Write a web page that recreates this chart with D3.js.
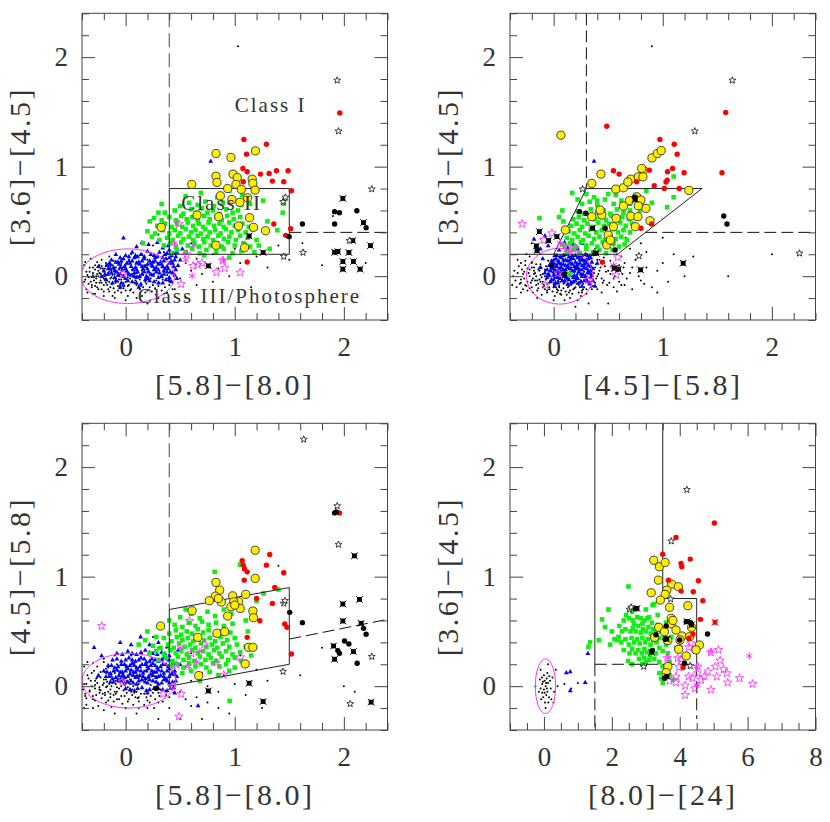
<!DOCTYPE html>
<html><head><meta charset="utf-8">
<script src="https://cdn.jsdelivr.net/npm/d3@7"></script>
<style>body{margin:0;background:#fff}svg{display:block}</style>
</head><body>
<svg id="c" width="830" height="822"></svg>
<script>
// ---------------- DATA ----------------
const irTicks = [0, 1, 2];
const p4XTicks = [0, 2, 4, 6, 8];

// Panel 1: [5.8]-[8.0] vs [3.6]-[4.5]
const p1Field = [[-0.25,-0.12],[-0.15,-0.14],[-0.05,-0.11],[0.04,-0.13],[0.12,-0.1],[-0.31,-0.1],[0.2,-0.13],[-0.1,-0.15],
[-0.34,-0.07],[-0.28,-0.09],[-0.22,-0.06],[-0.17,-0.08],[-0.12,-0.07],[-0.07,-0.09],[-0.02,-0.06],[0.03,-0.08],[0.08,-0.06],[0.14,-0.09],[0.19,-0.07],[0.25,-0.08],[0.31,-0.06],
[-0.37,-0.03],[-0.32,-0.05],[-0.27,-0.02],[-0.23,-0.04],[-0.19,-0.03],[-0.15,-0.05],[-0.11,-0.02],[-0.08,-0.04],[-0.04,-0.03],[0,-0.05],[0.04,-0.02],[0.09,-0.04],[0.13,-0.03],[0.18,-0.05],[0.23,-0.02],[0.28,-0.04],[0.34,-0.03],[0.4,-0.05],
[-0.35,0.01],[-0.3,-0.01],[-0.26,0.02],[-0.21,0],[-0.17,0.01],[-0.13,-0.01],[-0.1,0.02],[-0.06,0],[-0.02,0.01],[0.02,-0.01],[0.06,0.02],[0.11,0],[0.16,0.01],[0.21,-0.01],[0.26,0.02],[0.32,0],[0.38,0.01],
[-0.33,0.04],[-0.28,0.06],[-0.24,0.03],[-0.2,0.05],[-0.15,0.04],[-0.11,0.06],[-0.07,0.03],[-0.03,0.05],[0.01,0.04],[0.06,0.06],[0.1,0.03],[0.15,0.05],[0.2,0.04],[0.27,0.06],[0.35,0.05],
[-0.3,0.08],[-0.24,0.1],[-0.19,0.07],[-0.14,0.09],[-0.09,0.08],[-0.04,0.1],[0,0.07],[0.05,0.09],[0.1,0.08],[0.17,0.1],[0.24,0.09],[0.33,0.08],
[-0.26,0.13],[-0.18,0.12],[-0.11,0.14],[-0.04,0.12],[0.03,0.15],[0.1,0.13],[0.2,0.15],[0.29,0.12],
[-0.25,0],[-0.2,-0.02],[-0.16,0.03],[-0.12,0.01],[-0.09,-0.02],[-0.05,0.03],[-0.01,-0.02],[0.03,0.02],[-0.23,0.07],[-0.18,-0.06],[-0.13,0.05],[-0.07,-0.05],[-0.03,0.08],[0.02,-0.04],[0.07,0],[-0.27,-0.06],[-0.22,0.09],[-0.14,-0.1],[-0.06,0.06],[0,0.1],
[0.45,0.08],[0.5,-0.02],[0.55,0.12],[0.6,0.05],[0.65,0.16],[0.7,0.02],[0.75,0.1],[0.8,0.2],[0.85,0.07],[0.9,0.15],[0.95,0],[1.0,0.25],[1.05,0.12],[1.1,0.3],[1.2,0.18],[1.3,0.08],[1.4,0.28],[1.5,0.15],[0.35,0.22],[0.4,0.3],[0.3,0.38],[0.25,0.28],[0.5,0.4],[0.6,0.3],[0.7,0.45],[0.45,-0.12],[0.55,-0.2],[0.38,-0.15],[0.3,-0.2],[0.2,-0.25],[0.1,-0.2],[0,-0.22],[-0.1,-0.2],[-0.2,-0.18],[-0.3,-0.16],[-0.38,0.1],[-0.36,-0.12],[1.03,2.1],[1.62,0.3],[1.8,0.1],[2.2,0.12],[1.9,0.55],[0.65,-0.08],[0.8,-0.05],[1.15,-0.1],[0.9,0.35],[0.15,0.2],[0.05,0.2],[-0.15,0.18],[0.42,0.18]];
const p1FieldCore = [[-0.38,-0.05],[-0.36,0.04],[-0.34,-0.01],[-0.33,0.08],[-0.31,-0.08],[-0.3,0.03],[-0.29,-0.04],[-0.28,0.1],[-0.27,0],[-0.26,-0.1],[-0.25,0.05],[-0.24,-0.06],[-0.23,0.02],[-0.22,-0.12],[-0.21,0.07],[-0.2,-0.08],[-0.19,0],[-0.18,0.1],[-0.17,-0.04],[-0.16,-0.12],[-0.15,0.07],[-0.14,-0.02],[-0.13,-0.07],[-0.12,0.1],[-0.11,-0.11],[-0.1,0.05],[-0.09,-0.06],[-0.08,0.12],[-0.07,-0.13],[-0.06,-0.03],[-0.05,-0.08],[-0.04,-0.15],[-0.02,-0.11],[0,-0.13],[0.02,-0.09],[0.05,-0.12],[0.07,-0.15],[0.1,-0.08],[0.13,-0.12],[0.16,-0.1],[0.18,-0.15],[0.22,-0.1],[0.24,-0.14],[0.27,-0.11],[0.3,-0.09],[0.33,-0.13],[0.36,-0.1],[0.4,-0.08],[0.43,-0.12],[-0.35,-0.15],[-0.28,-0.16],[-0.2,-0.14],[-0.12,-0.18],[0.02,-0.18],[0.15,-0.18],[0.28,-0.17],[-0.37,0.13],[-0.32,0.16],[-0.22,0.15]];
const p1Blue = [[-0.12,-0.06],[-0.02,-0.08],[0.06,-0.05],[0.14,-0.07],[0.22,-0.04],[0.3,-0.06],[0.37,-0.03],[-0.18,-0.03],[0.42,-0.05],
[-0.22,0],[-0.16,0.02],[-0.1,-0.01],[-0.05,0.02],[0,-0.02],[0.05,0.01],[0.1,-0.01],[0.15,0.02],[0.2,-0.02],[0.25,0.01],[0.3,-0.01],[0.35,0.02],[0.4,-0.01],[0.45,0.01],
[-0.2,0.05],[-0.14,0.07],[-0.08,0.04],[-0.03,0.06],[0.02,0.03],[0.07,0.06],[0.11,0.04],[0.16,0.07],[0.21,0.04],[0.26,0.06],[0.31,0.03],[0.36,0.07],[0.41,0.04],[0.46,0.06],
[-0.17,0.1],[-0.11,0.08],[-0.06,0.11],[-0.01,0.09],[0.04,0.12],[0.09,0.08],[0.13,0.11],[0.18,0.09],[0.23,0.12],[0.28,0.08],[0.33,0.11],[0.38,0.09],[0.43,0.12],[0.48,0.1],
[-0.13,0.15],[-0.07,0.13],[-0.02,0.16],[0.03,0.14],[0.08,0.17],[0.12,0.13],[0.17,0.16],[0.22,0.14],[0.27,0.17],[0.32,0.13],[0.37,0.16],[0.42,0.14],[0.46,0.18],
[-0.09,0.2],[0,0.19],[0.06,0.22],[0.14,0.2],[0.2,0.23],[0.26,0.19],[0.31,0.22],[0.36,0.2],[0.4,0.24],[0.44,0.21],
[-0.15,0.12],[0.01,0.05],[0.19,0],[0.27,0.14],[0.35,0.05],[-0.04,0.14],[0.11,0.18],[0.24,0.1],[0.4,0.17],[0.08,0],
[-0.02,0.35],[0.1,0.27],[0.21,0.29],[0.29,0.31],[0.34,0.26],[-0.25,0.09],[-0.3,0],[0.12,-0.1],[-0.05,-0.1],[0.5,0.15],[0.47,-0.02],[0.39,0.28],[0.78,1.05],[0.52,0.25],[0.15,0.31]];
const p1BlueCore = [[-0.09,-0.04],[-0.04,-0.06],[0.02,-0.04],[0.1,-0.06],[0.18,-0.03],[0.26,-0.05],[0.34,-0.06],[0.4,-0.03],
[-0.19,0.02],[-0.13,0.03],[-0.07,0.01],[-0.02,0],[0.03,0.02],[0.08,0.03],[0.13,0],[0.17,0.04],[0.23,0.02],[0.28,0.04],[0.33,0],[0.38,0.04],[0.43,0.03],
[-0.16,0.07],[-0.1,0.05],[-0.05,0.08],[0,0.07],[0.05,0.09],[0.1,0.06],[0.15,0.09],[0.2,0.07],[0.25,0.09],[0.3,0.06],[0.34,0.09],[0.39,0.07],[0.44,0.09],
[-0.14,0.11],[-0.09,0.13],[0.01,0.12],[0.06,0.14],[0.1,0.12],[0.15,0.14],[0.2,0.11],[0.25,0.13],[0.3,0.11],[0.35,0.14],[0.4,0.12],[0.45,0.15],
[-0.05,0.17],[0.03,0.18],[0.09,0.19],[0.17,0.18],[0.23,0.2],[0.29,0.18],[0.34,0.17],[0.38,0.21],[0.42,0.19],[0.47,0.22]];
const p1Green = [[0.42,0.21],[0.47,0.24],[0.55,0.22],[0.61,0.25],[0.68,0.21],[0.74,0.24],[0.83,0.22],[0.9,0.25],[0.98,0.21],[1.06,0.23],[1.18,0.22],
[0.35,0.28],[0.41,0.3],[0.46,0.27],[0.51,0.31],[0.57,0.28],[0.63,0.3],[0.67,0.27],[0.72,0.31],[0.78,0.28],[0.84,0.3],[0.88,0.27],[0.94,0.31],[1.0,0.28],[1.08,0.3],[1.14,0.27],
[0.24,0.36],[0.31,0.33],[0.38,0.35],[0.43,0.33],[0.48,0.37],[0.53,0.34],[0.58,0.36],[0.62,0.33],[0.66,0.37],[0.71,0.34],[0.75,0.36],[0.8,0.33],[0.85,0.37],[0.9,0.34],[0.95,0.36],[1.01,0.33],[1.05,0.37],[1.12,0.35],[1.2,0.33],
[0.2,0.41],[0.27,0.39],[0.34,0.42],[0.4,0.39],[0.45,0.42],[0.5,0.39],[0.55,0.43],[0.6,0.4],[0.64,0.42],[0.69,0.39],[0.73,0.43],[0.77,0.4],[0.82,0.42],[0.87,0.39],[0.92,0.43],[0.97,0.4],[1.03,0.42],[1.1,0.4],[1.16,0.43],
[0.29,0.46],[0.36,0.48],[0.42,0.45],[0.47,0.48],[0.52,0.45],[0.57,0.49],[0.62,0.46],[0.67,0.48],[0.71,0.45],[0.76,0.49],[0.81,0.46],[0.86,0.48],[0.9,0.45],[0.95,0.49],[1.0,0.46],[1.07,0.48],[1.13,0.45],
[0.26,0.53],[0.33,0.51],[0.4,0.54],[0.46,0.51],[0.51,0.55],[0.56,0.52],[0.61,0.54],[0.66,0.51],[0.72,0.55],[0.77,0.52],[0.83,0.54],[0.88,0.51],[0.93,0.55],[0.99,0.52],[1.05,0.54],
[0.36,0.58],[0.45,0.6],[0.53,0.57],[0.6,0.61],[0.65,0.58],[0.7,0.62],[0.75,0.58],[0.8,0.6],[0.86,0.57],[0.92,0.61],[0.98,0.58],[1.03,0.6],
[0.33,0.66],[0.5,0.64],[0.58,0.67],[0.66,0.65],[0.73,0.68],[0.81,0.64],[0.89,0.67],[0.97,0.7],[1.06,0.65],
[0.55,0.73],[0.69,0.76],[0.84,0.72],[0.95,0.78],[1.07,0.74],[1.14,0.66],
[1.26,0.69],[1.39,0.42],[1.44,0.58],[1.45,0.66],[1.3,0.5],[1.22,0.28],[0.16,0.3],[0.22,0.5],[0.3,0.58],[1.32,0.25],[0.72,0.19],[0.95,0.17]];
const p1Yellow = [[0.828,1.12],[0.965,1.084],[1.19,1.144],[0.606,0.838],[0.828,0.913],[0.837,0.856],[0.984,0.932],[1.023,0.9],[1.011,0.838],[1.16,0.886],[1.166,0.847],[0.935,0.8],[1.06,0.792],[1.187,0.786],[0.974,0.7],[1.047,0.674],[0.868,0.734],[1.118,0.716],[0.655,0.558],[0.853,0.543],[1.035,0.458],[1.136,0.534],[1.172,0.446],[1.282,0.415],[0.828,0.282],[1.09,0.26],[0.326,0.446]];
const p1Red = [[1.084,1.248],[1.29,1.205],[1.108,1.114],[1.963,1.49],[1.114,0.953],[1.236,0.932],[1.315,0.938],[1.382,0.962],[1.489,0.962],[1.345,0.868],[1.449,0.862],[1.519,0.78],[1.078,0.862],[1.075,0.983],[1.358,0.477],[1.513,0.434],[1.467,0.373],[1.114,0.13]];
const p1Black = [[1.915,0.589],[1.96,0.58],[1.915,0.477],[2.119,0.598],[2.204,0.443],[1.62,0.477],[1.498,0.361]];
const p1BlackX = [[1.991,0.71],[2.18,0.489],[2.082,0.325],[2.244,0.279],[1.915,0.219],[1.945,0.225],[2.046,0.216],[1.991,0.134],[1.991,0.064],[2.088,0.134],[2.149,0.064],[1.132,0.367],[1.26,0.216],[0.758,0.094]];
const p1Star = [[1.939,1.788],[1.951,1.324],[2.256,0.795],[1.626,0.216],[1.449,0.179],[1.443,0.68],[1.464,0.72],[2.052,0.325]];
const p1MagStar = [[0.488,0.476],[0.661,0.103],[0.618,0.094],[0.831,0.036],[0.908,0.073],[1.05,0.033],[0.509,-0.073],[-0.024,0.018],[0.889,0.143],[0.7,0.12],[0.56,0.2]];
const p1MagAst = [[0.609,0.003],[0.895,0.148],[0.45,0.3],[0.62,0.28],[0.55,0.15]];

// Panel 2: [4.5]-[5.8] vs [3.6]-[4.5]
const p2Field = [[-0.15,-0.13],[-0.06,-0.15],[0.03,-0.12],[0.11,-0.14],[0.19,-0.11],[-0.22,-0.11],[0.26,-0.13],[0.07,-0.17],
[-0.26,-0.08],[-0.2,-0.1],[-0.14,-0.07],[-0.09,-0.09],[-0.04,-0.06],[0,-0.08],[0.05,-0.1],[0.09,-0.07],[0.14,-0.09],[0.18,-0.06],[0.23,-0.08],[0.28,-0.1],[0.33,-0.07],
[-0.3,-0.03],[-0.24,-0.05],[-0.19,-0.02],[-0.15,-0.04],[-0.11,-0.01],[-0.07,-0.03],[-0.03,-0.05],[0.01,-0.02],[0.04,-0.04],[0.08,-0.01],[0.12,-0.03],[0.16,-0.05],[0.2,-0.02],[0.25,-0.04],[0.3,-0.01],[0.36,-0.03],
[-0.28,0.02],[-0.22,0],[-0.17,0.03],[-0.12,0.01],[-0.08,0.04],[-0.04,0],[0,0.02],[0.04,0.04],[0.08,0.01],[0.12,0.03],[0.17,0],[0.22,0.02],[0.28,0.04],[0.34,0.01],
[-0.24,0.07],[-0.18,0.05],[-0.13,0.08],[-0.08,0.06],[-0.03,0.09],[0.01,0.06],[0.06,0.08],[0.11,0.05],[0.16,0.08],[0.22,0.06],[0.3,0.08],
[-0.2,0.12],[-0.12,0.11],[-0.05,0.14],[0.02,0.11],[0.09,0.13],[0.17,0.12],[0.26,0.14],
[-0.1,-0.05],[-0.05,0.02],[0,-0.06],[0.03,0],[0.06,-0.05],[0.1,0],[-0.16,0],[-0.13,-0.03],[-0.02,0.06],[0.07,0.05],[0.14,-0.02],[0.02,-0.1],[-0.08,-0.12],[0.12,-0.08],[-0.18,0.08],[0.19,0.04],
[-0.36,0.05],[-0.38,-0.08],[-0.33,0.15],[-0.3,-0.15],[-0.25,0.2],[-0.15,-0.2],[0,-0.22],[0.15,-0.2],[0.25,-0.18],[0.35,-0.12],[0.4,0],[0.45,-0.06],[0.5,0.05],[0.55,-0.02],[0.6,0.1],[0.65,-0.08],[0.7,0.03],[0.75,0.15],[0.8,-0.04],[0.85,0.08],[0.9,-0.1],[0.95,0.05],[1.0,0.12],[1.05,-0.05],[1.1,0.2],[0.42,0.15],[0.48,0.2],[0.38,0.25],[0.3,0.2],[0.55,0.28],[0.62,0.18],[0.7,0.25],[0.44,-0.15],[0.58,-0.14],[0.72,-0.12],[0.32,-0.25],[0.2,-0.28],[0.5,-0.25],[1.2,0],[0.95,-0.15],[0.9,2.1],[1.6,0],[2.0,0.2],[1.0,0.35],[0.8,0.3],[-0.2,0.3],[0.1,0.28],[1.28,0.18],[0.66,0.35],[0.85,0.22]];
const p2FieldCore = [[-0.37,0],[-0.35,-0.04],[-0.33,0.03],[-0.31,-0.07],[-0.29,0.06],[-0.27,-0.02],[-0.26,0.1],[-0.24,-0.13],[-0.23,0.03],[-0.21,-0.06],[-0.2,0.08],[-0.19,-0.15],[-0.17,-0.04],[-0.16,0.11],[-0.14,-0.11],[-0.13,0.05],[-0.11,-0.17],[-0.1,0.02],[-0.09,-0.08],[-0.07,0.09],[-0.06,-0.13],[-0.04,-0.1],[-0.01,-0.14],[0.01,-0.18],[0.04,-0.13],[0.06,-0.16],[0.09,-0.11],[0.12,-0.17],[0.15,-0.13],[0.17,-0.16],[0.2,-0.1],[0.23,-0.15],[0.27,-0.12],[0.3,-0.16],[0.34,-0.1],[0.38,-0.06],[0.4,-0.12],[0.42,0.05],[0.44,-0.02],[0.47,0.09],[0.49,-0.08],[0.52,0.02],[0.55,-0.1],[0.57,0.06],[0.6,-0.05],[0.63,0.02],[0.67,-0.02],[0.72,0.08],[0.78,0],[0.83,-0.07],[0.38,0.08],[0.4,0.15],[0.45,0.12],[0.52,0.14],[0.58,0.2],[0.65,0.12],[-0.3,0.12],[-0.22,0.18],[0.1,-0.22],[0.22,-0.22],
[-0.3,-0.06],[-0.27,0.04],[-0.25,-0.09],[-0.22,0.06],[-0.2,-0.04],[-0.18,0.02],[-0.16,-0.08],[-0.14,0.06],[-0.12,-0.05],[-0.1,-0.1],[-0.08,0],[-0.06,-0.07],[-0.04,-0.12],[-0.02,-0.04],[0,-0.1],[0.02,-0.07],[0.05,-0.09],[0.07,-0.13],[0.1,-0.06],[0.13,-0.1],[0.16,-0.08],[0.18,-0.12],[0.21,-0.07],[0.24,-0.1],[0.27,-0.07],[0.3,-0.12],[0.33,-0.05],[0.36,-0.09],[0.39,-0.02],[0.41,0.02],[0.43,0.08],[0.46,-0.04],[0.48,0.04],[0.51,-0.06],[0.53,0.09],[0.56,0],[0.59,0.05],[0.62,-0.08],[0.64,0.08],[0.37,0.03],[0.39,0.11],[-0.26,0.14],[-0.32,0.09],[-0.34,-0.1],[-0.28,-0.12],[-0.2,0.13],[0.03,-0.15],[0.14,-0.15],[0.26,-0.15],[0.46,0.17]];
const p2Blue = [[0.02,-0.06],[0.08,-0.04],[0.13,-0.07],[0.18,-0.05],[0.23,-0.06],[0.28,-0.04],[0.33,-0.07],[-0.03,-0.05],
[-0.06,-0.01],[-0.02,-0.03],[0.02,0],[0.06,-0.02],[0.1,0],[0.14,-0.03],[0.18,-0.01],[0.22,-0.02],[0.26,0],[0.3,-0.03],[0.34,-0.01],
[-0.08,0.03],[-0.04,0.01],[0,0.04],[0.04,0.02],[0.07,0.04],[0.11,0.01],[0.15,0.03],[0.19,0.01],[0.23,0.04],[0.27,0.02],[0.31,0.03],[0.35,0.01],
[-0.06,0.06],[-0.02,0.08],[0.02,0.05],[0.05,0.07],[0.09,0.06],[0.13,0.08],[0.17,0.05],[0.2,0.07],[0.24,0.06],[0.28,0.08],[0.32,0.05],[0.36,0.07],
[-0.04,0.1],[0,0.12],[0.03,0.09],[0.07,0.11],[0.11,0.1],[0.15,0.12],[0.19,0.09],[0.22,0.11],[0.26,0.1],[0.3,0.12],[0.34,0.09],
[-0.02,0.14],[0.02,0.16],[0.05,0.13],[0.09,0.15],[0.13,0.14],[0.16,0.17],[0.2,0.13],[0.24,0.15],[0.28,0.14],[0.32,0.16],[0.35,0.13],
[0.01,0.19],[0.06,0.18],[0.11,0.2],[0.17,0.19],[0.23,0.18],[0.29,0.2],[0.33,0.18],
[-0.18,0.34],[-0.08,0.37],[-0.12,0.25],[-0.05,0.28],[0.05,0.24],[0.13,0.26],[0.18,0.29],[0.26,0.3],[0.22,0.25],[0.37,1.05],[0.38,-0.09],[0.26,-0.09],[-0.1,0.16],[0.1,0.31],[0.36,0.2],[0.4,0.12],[0.01,-0.09],[-0.12,0.08]];
const p2BlueCore = [[0,-0.03],[0.04,-0.06],[0.1,-0.04],[0.16,-0.06],[0.2,-0.04],[0.25,-0.05],[0.31,-0.05],[0.36,-0.04],
[-0.05,0.02],[0,0.01],[0.04,-0.01],[0.08,0.02],[0.12,-0.01],[0.16,0.01],[0.21,0],[0.25,0.02],[0.29,0],[0.33,0.03],
[-0.03,0.05],[0,0.07],[0.04,0.05],[0.07,0.08],[0.11,0.06],[0.15,0.07],[0.19,0.05],[0.22,0.08],[0.26,0.06],[0.3,0.07],[0.34,0.05],
[-0.02,0.11],[0.02,0.1],[0.05,0.12],[0.09,0.11],[0.13,0.1],[0.17,0.11],[0.21,0.1],[0.24,0.12],[0.28,0.11],[0.32,0.1],
[0,0.15],[0.04,0.14],[0.07,0.17],[0.11,0.15],[0.15,0.15],[0.18,0.16],[0.22,0.17],[0.26,0.16],[0.3,0.15],[0.34,0.17],
[0.03,0.19],[0.09,0.19],[0.14,0.18],[0.2,0.19],[0.26,0.19],[0.31,0.19]];
const p2Green = [[0.12,0.22],[0.18,0.24],[0.24,0.21],[0.3,0.25],[0.36,0.22],[0.42,0.24],[0.48,0.21],[0.54,0.24],
[0.1,0.28],[0.15,0.3],[0.2,0.27],[0.25,0.31],[0.3,0.28],[0.35,0.3],[0.4,0.27],[0.45,0.31],[0.5,0.28],[0.55,0.3],[0.6,0.27],[0.65,0.29],
[0.12,0.35],[0.17,0.33],[0.22,0.36],[0.27,0.33],[0.32,0.37],[0.37,0.34],[0.42,0.36],[0.47,0.33],[0.52,0.37],[0.57,0.34],[0.62,0.36],[0.67,0.33],
[0.14,0.41],[0.19,0.39],[0.24,0.42],[0.29,0.39],[0.34,0.43],[0.39,0.4],[0.44,0.42],[0.49,0.39],[0.54,0.43],[0.59,0.4],[0.64,0.42],[0.7,0.4],
[0.16,0.46],[0.21,0.48],[0.26,0.45],[0.31,0.48],[0.36,0.45],[0.41,0.49],[0.46,0.46],[0.51,0.48],[0.56,0.45],[0.61,0.49],[0.66,0.46],[0.72,0.48],
[0.18,0.52],[0.23,0.54],[0.28,0.51],[0.33,0.55],[0.38,0.52],[0.43,0.54],[0.48,0.51],[0.53,0.55],[0.58,0.52],[0.63,0.54],[0.69,0.52],[0.76,0.53],
[0.22,0.59],[0.28,0.57],[0.34,0.61],[0.4,0.58],[0.46,0.6],[0.52,0.57],[0.58,0.61],[0.64,0.58],[0.7,0.6],[0.79,0.6],
[0.26,0.66],[0.33,0.68],[0.4,0.65],[0.47,0.7],[0.55,0.66],[0.62,0.69],[0.7,0.66],[0.8,0.67],[0.37,0.72],[0.57,0.74],
[0.17,0.76],[-0.13,0.53],[0.05,0.54],[0.09,0.5],[0.4,0.69],[0.5,0.75],[0.6,0.8],[1.1,0.91],[1.1,0.72],[1.04,0.63],[0.9,0.67],[0.85,0.78],[0.3,0.75],[0.75,0.74],[0.22,0.7],[0.08,0.6],[0.15,0.02],[0.08,0.29]];
const p2Yellow = [[0.067,1.287],[0.35,0.847],[0.433,0.932],[0.57,0.795],[0.64,0.807],[0.707,0.886],[0.68,0.86],[0.776,0.907],[0.822,0.968],[0.818,0.907],[0.807,0.984],[0.901,1.08],[0.95,1.12],[0.986,1.147],[1.239,0.783],[0.694,0.689],[0.761,0.725],[0.8,0.695],[0.846,0.619],[0.776,0.643],[0.707,0.549],[0.772,0.543],[0.883,0.506],[0.749,0.452],[0.548,0.452],[0.5,0.376],[0.487,0.285],[0.35,0.543],[0.442,0.558],[0.107,0.422],[0.64,0.64],[0.573,0.528],[0.426,0.604],[0.52,0.33]];
const p2Red = [[0.487,1.369],[0.974,1.248],[1.105,1.205],[1.132,1.114],[0.548,0.962],[0.6,0.932],[0.877,0.968],[1.044,0.953],[1.09,0.984],[1.041,0.877],[1.03,0.86],[1.196,0.944],[0.922,0.826],[1.014,0.801],[1.151,0.801],[0.761,0.862],[1.577,1.494],[1.543,0.944],[0.8,0.437],[0.898,0.477],[0.447,0.128]];
const p2Black = [[1.559,0.55],[1.589,0.477],[0.237,0.589],[0.295,0.574],[0.472,0.437],[0.563,0.24],[0.38,0.21],[0.746,0.72],[-0.02,0.1],[0.1,0.02]];
const p2BlackX = [[-0.131,0.407],[-0.158,0.276],[-0.152,0.234],[-0.046,0.325],[0.03,0.361],[0.356,0.437],[0.594,0.064],[0.797,0.058],[1.187,0.118],[0.746,0.7],[0.557,0.073],[0.39,0.21]];
const p2Star = [[1.638,1.788],[1.294,1.324],[0.265,0.795],[0.782,0.185],[2.253,0.209]];
const p2MagStar = [[-0.289,0.477],[-0.091,0.331],[-0.015,0.392],[-0.076,-0.079],[0.04,0.027],[0.122,0.255],[0.314,-0.033],[0.554,0.073],[0.572,0.012],[0.588,0.173],[0.2,0.26]];
const p2MagAst = [[0.55,0.1],[0.06,0.3],[0.15,0.22]];

// Panel 3: [5.8]-[8.0] vs [4.5]-[5.8]
const p3Field = [[-0.28,-0.13],[-0.18,-0.15],[-0.08,-0.12],[0.02,-0.14],[0.11,-0.11],[0.2,-0.13],[0.3,-0.15],[-0.36,-0.11],
[-0.37,-0.07],[-0.3,-0.09],[-0.24,-0.06],[-0.19,-0.08],[-0.14,-0.1],[-0.09,-0.07],[-0.04,-0.09],[0.01,-0.06],[0.06,-0.08],[0.12,-0.1],[0.17,-0.07],[0.23,-0.09],[0.3,-0.06],[0.37,-0.08],
[-0.39,-0.03],[-0.33,-0.05],[-0.28,-0.02],[-0.23,-0.04],[-0.18,-0.01],[-0.14,-0.03],[-0.1,-0.05],[-0.06,-0.02],[-0.02,-0.04],[0.02,-0.01],[0.06,-0.03],[0.1,-0.05],[0.15,-0.02],[0.2,-0.04],[0.26,-0.01],[0.32,-0.03],
[-0.36,0.02],[-0.31,0],[-0.26,0.03],[-0.21,0.01],[-0.17,0.04],[-0.13,0],[-0.09,0.02],[-0.05,0.04],[-0.01,0.01],[0.03,0.03],[0.07,0],[0.12,0.02],[0.17,0.04],[0.23,0.01],[0.29,0.03],
[-0.34,0.07],[-0.28,0.05],[-0.23,0.08],[-0.18,0.06],[-0.13,0.09],[-0.09,0.05],[-0.05,0.07],[-0.01,0.09],[0.04,0.06],[0.09,0.08],[0.14,0.05],[0.2,0.07],[0.27,0.09],
[-0.31,0.12],[-0.25,0.1],[-0.19,0.13],[-0.13,0.11],[-0.07,0.14],[-0.02,0.11],[0.04,0.13],[0.1,0.1],[0.17,0.14],[0.25,0.12],
[-0.26,0.18],[-0.16,0.17],[-0.08,0.2],[0,0.18],[0.08,0.21],[0.18,0.19],
[-0.24,-0.01],[-0.2,0.03],[-0.16,-0.05],[-0.12,0.06],[-0.08,-0.01],[-0.04,0],[0,-0.03],[0.04,0.02],[-0.15,0.02],[-0.11,-0.08],[-0.06,0.1],[-0.02,0.06],[0.08,-0.06],[-0.27,0.07],[-0.21,-0.07],[0.12,0.07],
[0.4,0],[0.45,0.1],[0.5,-0.05],[0.55,0.18],[0.6,0.05],[0.65,-0.1],[0.7,0.12],[0.75,0],[0.8,0.22],[0.85,-0.05],[0.9,0.1],[1.0,0.02],[1.05,0.28],[1.1,-0.08],[1.2,0.15],[1.3,0.05],[0.35,0.25],[0.3,0.35],[0.25,0.45],[0.45,0.3],[0.6,0.3],[0.15,0.3],[0.05,0.28],[-0.1,0.28],[-0.2,0.25],[-0.35,0.22],[-0.38,-0.2],[-0.3,-0.2],[-0.2,-0.22],[-0.1,-0.25],[0,-0.2],[0.1,-0.25],[0.2,-0.2],[0.3,-0.3],[0.4,-0.2],[0.5,-0.3],[0.6,-0.18],[0.7,-0.3],[0.85,-0.2],[0.55,-0.12],[0.75,-0.15],[1.12,0.38],[1.6,0.1],[1.8,0.35],[2.0,0],[2.1,-0.05],[1.4,1.1],[0.42,0.4],[0.95,-0.25],[1.25,-0.2]];
const p3FieldCore = [[-0.38,0.02],[-0.37,-0.09],[-0.35,0.1],[-0.33,-0.04],[-0.32,0.05],[-0.3,-0.12],[-0.29,0.14],[-0.28,0.01],[-0.27,-0.08],[-0.26,0.08],[-0.24,-0.03],[-0.23,0.13],[-0.22,-0.11],[-0.2,0.06],[-0.19,-0.06],[-0.18,0.16],[-0.17,0],[-0.16,-0.13],[-0.15,0.1],[-0.14,-0.07],[-0.12,0.03],[-0.11,-0.14],[-0.1,0.12],[-0.08,-0.05],[-0.07,0.04],[-0.06,-0.12],[-0.04,0.08],[-0.03,-0.16],[-0.01,-0.09],[0.01,0.05],[0.03,-0.12],[0.05,-0.05],[0.07,-0.17],[0.09,-0.1],[0.12,-0.14],[0.14,-0.07],[0.17,-0.17],[0.19,-0.1],[0.22,-0.15],[0.25,-0.06],[0.27,-0.12],[0.31,-0.09],[0.34,-0.14],[0.37,-0.04],[0.4,-0.1],[0.44,-0.06],[-0.36,-0.17],[-0.25,-0.18],[-0.13,-0.19],[0,-0.2],[0.12,-0.2],[0.26,-0.2],[-0.38,0.18],[-0.3,0.21],[-0.2,0.22]];
const p3Blue = [[0,-0.02],[0.08,-0.04],[0.15,-0.01],[0.22,-0.03],[0.3,-0.02],[0.38,-0.04],[0.44,-0.01],
[-0.14,0.04],[-0.07,0.06],[-0.01,0.03],[0.05,0.05],[0.1,0.02],[0.15,0.06],[0.2,0.03],[0.25,0.05],[0.3,0.02],[0.35,0.06],[0.4,0.03],[0.46,0.05],
[-0.18,0.09],[-0.12,0.07],[-0.06,0.1],[-0.01,0.08],[0.04,0.11],[0.09,0.08],[0.13,0.1],[0.18,0.07],[0.23,0.11],[0.28,0.08],[0.32,0.1],[0.37,0.07],[0.42,0.11],[0.47,0.09],
[-0.2,0.14],[-0.14,0.12],[-0.08,0.15],[-0.03,0.13],[0.02,0.16],[0.07,0.13],[0.11,0.15],[0.16,0.12],[0.21,0.16],[0.26,0.13],[0.3,0.15],[0.35,0.12],[0.4,0.16],[0.45,0.14],
[-0.16,0.19],[-0.1,0.17],[-0.04,0.2],[0.01,0.18],[0.06,0.21],[0.1,0.17],[0.15,0.2],[0.2,0.18],[0.25,0.21],[0.29,0.17],[0.34,0.2],[0.39,0.18],[0.44,0.21],
[-0.12,0.24],[-0.04,0.23],[0.03,0.26],[0.09,0.23],[0.14,0.26],[0.19,0.22],[0.24,0.25],[0.3,0.23],[0.35,0.26],[0.4,0.24],
[-0.08,0.3],[0.02,0.32],[0.1,0.29],[0.18,0.33],[0.25,0.3],[0.33,0.31],[0.4,0.28],
[0.137,0.452],[-0.289,0.355],[0.664,-0.177],[-0.22,0.28],[-0.05,0.4],[0.05,0.38],[0.22,0.38],[0.3,0.4],[0.48,0.33],[0.5,0.2],[0.38,0.36],[-0.25,0.1],[0.45,-0.06],[0.2,-0.06]];
const p3BlueCore = [[0.04,-0.03],[0.11,-0.02],[0.19,-0.04],[0.26,-0.02],[0.34,-0.03],[0.41,-0.02],
[-0.11,0.04],[-0.04,0.05],[0.02,0.04],[0.07,0.03],[0.12,0.05],[0.18,0.04],[0.22,0.06],[0.28,0.04],[0.33,0.03],[0.38,0.05],[0.43,0.04],
[-0.15,0.09],[-0.09,0.08],[-0.03,0.1],[0.02,0.09],[0.07,0.1],[0.11,0.09],[0.16,0.09],[0.21,0.09],[0.25,0.1],[0.3,0.09],[0.35,0.09],[0.4,0.09],[0.45,0.11],
[-0.17,0.13],[-0.11,0.14],[-0.05,0.13],[0,0.14],[0.05,0.15],[0.09,0.13],[0.14,0.14],[0.19,0.14],[0.24,0.14],[0.28,0.13],[0.33,0.14],[0.38,0.14],[0.43,0.13],
[-0.13,0.19],[-0.07,0.18],[-0.01,0.2],[0.04,0.19],[0.08,0.19],[0.13,0.18],[0.18,0.2],[0.23,0.19],[0.27,0.19],[0.32,0.18],[0.37,0.2],[0.42,0.19],
[-0.08,0.25],[0,0.24],[0.06,0.24],[0.12,0.24],[0.17,0.25],[0.22,0.23],[0.27,0.24],[0.33,0.24],[0.38,0.25],
[-0.03,0.29],[0.06,0.3],[0.14,0.31],[0.22,0.31],[0.29,0.29],[0.36,0.3]];
const p3Green = [[0.52,0.12],[0.6,0.14],[0.68,0.11],[0.77,0.13],[0.85,0.1],[0.95,0.14],
[0.42,0.18],[0.47,0.2],[0.53,0.17],[0.58,0.21],[0.64,0.18],[0.69,0.2],[0.74,0.17],[0.8,0.21],[0.86,0.18],[0.92,0.2],[1.0,0.17],
[0.3,0.24],[0.37,0.26],[0.43,0.23],[0.48,0.27],[0.53,0.24],[0.58,0.26],[0.63,0.23],[0.68,0.27],[0.73,0.24],[0.78,0.26],[0.83,0.23],[0.88,0.27],[0.94,0.24],[1.0,0.26],[1.06,0.23],
[0.22,0.3],[0.28,0.32],[0.35,0.29],[0.41,0.33],[0.46,0.3],[0.51,0.32],[0.56,0.29],[0.61,0.33],[0.66,0.3],[0.71,0.32],[0.76,0.29],[0.81,0.33],[0.86,0.3],[0.92,0.32],[0.98,0.29],[1.05,0.31],
[0.25,0.37],[0.32,0.35],[0.39,0.38],[0.44,0.35],[0.49,0.39],[0.54,0.36],[0.59,0.38],[0.64,0.35],[0.69,0.39],[0.74,0.36],[0.79,0.38],[0.84,0.35],[0.89,0.39],[0.95,0.36],[1.02,0.38],[1.1,0.36],
[0.18,0.42],[0.35,0.44],[0.42,0.41],[0.47,0.45],[0.52,0.42],[0.57,0.44],[0.62,0.41],[0.67,0.45],[0.72,0.42],[0.77,0.44],[0.82,0.41],[0.87,0.45],[0.93,0.42],[1.0,0.44],
[0.4,0.48],[0.46,0.51],[0.51,0.47],[0.56,0.5],[0.61,0.48],[0.66,0.52],[0.71,0.49],[0.76,0.51],[0.82,0.47],[0.88,0.5],[0.96,0.49],
[0.45,0.56],[0.52,0.54],[0.58,0.58],[0.64,0.55],[0.7,0.59],[0.76,0.56],[0.83,0.58],[0.9,0.55],[0.98,0.57],
[0.5,0.63],[0.6,0.66],[0.68,0.62],[0.75,0.68],[0.82,0.64],[0.9,0.7],[0.97,0.66],[1.03,0.72],[0.55,0.7],
[0.816,1.044],[1.05,1.11],[1.264,0.847],[1.4,0.883],[0.953,-0.134],[1.1,0.6],[1.12,0.5],[0.12,0.38],[0.2,0.5],[0.28,0.45],[1.15,0.28],[0.68,0.05],[0.4,0.6],[1.2,0.78]];
const p3Yellow = [[1.187,1.241],[0.828,0.947],[1.187,0.984],[0.862,0.877],[0.822,0.822],[0.767,0.78],[0.877,0.768],[0.981,0.825],[1.1,0.838],[1.036,0.771],[0.99,0.77],[1.05,0.71],[0.965,0.725],[0.935,0.64],[1.166,0.686],[1.172,0.625],[0.609,0.689],[0.32,0.549],[0.661,0.446],[0.837,0.483],[0.908,0.497],[1.127,0.355],[1.166,0.355],[1.096,0.203],[0.67,0.097],[0.85,0.8],[1.0,0.74]];
const p3Red = [[1.321,1.202],[1.068,1.145],[1.078,1.105],[1.29,1.105],[1.114,1.044],[1.087,0.968],[1.449,1.035],[1.367,0.902],[1.2,0.801],[1.345,0.756],[1.23,0.598],[1.458,0.568],[1.479,0.537],[1.114,0.446],[1.519,0.294],[1.96,1.582],[1.09,1.07]];
const p3Black = [[1.915,1.582],[1.93,1.59],[1.504,0.674],[1.62,0.58],[2.122,0.209],[2.204,0.474],[2.006,0.413],[1.945,0.325],[1.96,0.3],[2.046,0.386],[2.18,0.528],[0.28,-0.02]];
const p3BlackX = [[2.097,1.19],[1.991,0.75],[2.143,0.792],[1.991,0.595],[2.158,0.574],[1.906,0.367],[2.088,0.316],[1.915,0.246],[2.25,-0.146],[1.132,0.027],[1.26,-0.14],[0.758,-0.043]];
const p3Star = [[1.632,2.253],[1.939,1.645],[1.951,1.293],[1.449,0.756],[1.46,0.78],[1.443,0.134],[2.256,0.27],[2.058,-0.161]];
const p3MagStar = [[-0.219,0.549],[0.488,-0.277],[0.509,-0.07],[0.344,-0.07],[0.899,0.103],[1.05,0.264],[0.831,0.215],[0.585,0.595],[0.466,0.194],[-0.03,0.042],[0.426,-0.004],[0.6,0.3],[0.72,0.38]];
const p3MagAst = [[0.65,0.22],[0.5,0.35],[0.58,0.18],[0.68,0.32]];

// Panel 4: [8.0]-[24] vs [3.6]-[4.5]
const p4Field = [[-0.05,0.02],[0,-0.03],[0.05,0],[0.1,-0.05],[-0.1,-0.02],[0.02,0.05],[0.08,0.07],[-0.06,0.08],[0.12,0.03],[0.15,-0.1],[-0.02,-0.1],[0.03,-0.15],[0.07,-0.08],[-0.08,-0.12],[0.18,0.05],[0.2,-0.02],[0.25,0.08],[0,0.1],[-0.12,0.06],[0.05,-0.2],[0.1,0.12],[0.3,-0.05],[-0.15,-0.05],[0.13,-0.15],[0.22,-0.12],[0.4,0],[0.6,0.02],[0.8,-0.02],[1.0,0.03],[-0.25,0],[0.35,0.15],[0.02,-0.06],[0.06,0.03],[-0.03,0.04],[0.09,-0.02],[0.16,0.09],[-0.05,-0.06],[0.28,-0.15],[-0.1,0.15],[0.12,0.2]];
const p4Blue = [[0.66,0.124],[0.775,0.133],[0.775,-0.04],[1.216,0.036],[1.294,0.3]];
const p4Green = [[2.49,0.91],[1.9,0.7],[1.71,0.61],[1.8,0.54],[1.62,0.42],[1.36,0.4],[1.31,0.36],[2.08,0.43],[2.2,0.45],[2.35,0.6],[2.42,0.65],[2.5,0.62],[2.62,0.6],[2.75,0.63],[2.85,0.62],[2.95,0.6],[3.05,0.62],[3.2,0.74],[3.1,0.63],[2.48,0.23],[2.6,0.2],[2.9,0.2],[3.0,0.22],[3.5,0.03],[3.45,0.07],
[2.3,0.5],[2.4,0.52],[2.55,0.5],[2.62,0.53],[2.7,0.5],[2.78,0.55],[2.85,0.49],[2.92,0.52],[3.0,0.5],[3.08,0.54],[3.15,0.48],[3.22,0.52],[3.3,0.5],
[2.15,0.42],[2.28,0.4],[2.4,0.43],[2.5,0.38],[2.58,0.44],[2.66,0.4],[2.74,0.43],[2.82,0.39],[2.9,0.44],[2.98,0.4],[3.06,0.43],[3.14,0.38],[3.22,0.42],[3.32,0.4],[3.4,0.44],
[2.35,0.33],[2.52,0.3],[2.6,0.34],[2.7,0.3],[2.78,0.33],[2.88,0.3],[2.96,0.34],[3.04,0.31],[3.12,0.28],[3.2,0.33],[3.3,0.3],[3.4,0.35],[3.5,0.32],
[2.8,0.25],[2.95,0.26],[3.1,0.24],[3.25,0.25],[3.4,0.22],[2.65,0.57],[2.9,0.57],[3.18,0.58],[3.35,0.56],[3.45,0.5],[3.55,0.45],[3.6,0.38],[3.65,0.3],[3.7,0.22],[3.55,0.12],[3.7,0.1],[3.8,0.06],
[2.0,0.5],[1.95,0.38],[2.22,0.55],[3.0,0.7],[2.7,0.7],[3.35,0.65],[3.6,0.58],[3.75,0.45],[3.9,0.35],[3.5,0.18],[3.4,0.12],[2.6,0.68],[3.25,0.75]];
const p4Yellow = [[3.235,1.15],[3.4,1.09],[3.57,1.129],[3.37,0.968],[3.76,0.932],[3.96,0.908],[3.62,0.877],[3.16,0.853],[3.57,0.838],[3.43,0.786],[4.24,0.735],[3.7,0.72],[3.75,0.619],[3.75,0.568],[3.38,0.537],[3.26,0.446],[3.55,0.498],[3.65,0.416],[3.89,0.513],[4.07,0.458],[4.35,0.537],[4.29,0.452],[4.58,0.376],[3.97,0.337],[4.19,0.276],[4.48,0.331],[3.65,0.179],[3.6,0.124],[4.01,0.422],[3.8,0.6]];
const p4Red = [[3.5,1.205],[3.89,1.357],[4.31,1.16],[4.04,1.12],[4.06,1.09],[3.67,0.968],[4.04,0.868],[4.4,0.862],[4.55,0.962],[4.68,0.78],[4.61,0.61],[5.02,1.49],[4.27,0.437],[4.39,0.477],[4.1,0.17]];
const p4RedX = [[5.04,0.583]];
const p4Black = [[2.69,0.71],[4.82,0.477],[4.19,0.589],[4.32,0.58],[3.57,0.428],[3.19,0.325],[4.14,0.21],[3.55,0.073],[4.0,0.422],[3.6,0.55],[3.3,0.47]];
const p4BlackX = [[2.74,0.71],[4.22,0.59],[3.17,0.31],[3.62,0.43],[4.35,0.56],[3.62,0.09]];
const p4Star = [[4.21,1.794],[3.75,1.324],[3.73,0.795],[2.52,0.701],[2.57,0.72],[2.94,0.179],[4.31,0.185]];
const p4MagStar = [[5.14,0.331],[4.92,0.307],[5.19,0.234],[5.05,0.179],[4.83,0.134],[5.09,0.088],[5.29,0.155],[5.39,0.118],[5.41,0.033],[5.76,0.073],[6.15,0.021],[4.92,-0.033],[4.16,0.006],[4.16,-0.08],[3.89,0.033],[3.89,0.088],[4.26,0.088],[4.38,0.073],[4.53,0.179],[4.73,0.088],[3.63,0.255],[3.94,0.255],[4.04,0.246],[4.27,0.355],[4.33,0.392],[4.52,0.118],[4.63,0.058],[3.98,0.173],[3.7,0.05],[4.45,-0.02]];
const p4MagAst = [[6.05,0.276],[4.92,0.316],[4.52,0.012],[3.66,0.26],[4.5,0.18],[4.0,0.38]];

// Criteria lines (data coordinates) and photosphere ellipses [cx, cy, rx, ry]
const p1Solid = [[[0.4,0.8],[1.5,0.8],[1.5,0.2],[0.4,0.2],[0.4,0.8]]];
const p1DashGray = [[[0.4,2.4],[0.4,0.8]]];
const p1Dash = [[[1.5,0.4],[2.4,0.4]]];
const p2Solid = [[[-0.4,0.2],[0.585,0.2],[1.36,0.8],[0.3,0.8],[0.0,0.2]]];
const p2DashGray = [];
const p2Dash = [[[0.3,2.4],[0.3,0.8]],[[0.84,0.4],[2.4,0.4]]];
const p3Solid = [[[0.4,0.7],[0.4,0.0],[1.5,0.2],[1.5,0.9],[0.4,0.7]]];
const p3DashGray = [[[0.4,2.4],[0.4,0.7]]];
const p3Dash = [[[1.5,0.43],[2.4,0.61]]];
const p4Solid = [[[1.5,2.4],[1.5,0.2]],[[3.5,2.4],[3.5,0.8],[4.5,0.8],[4.5,0.2]]];
const p4DashGray = [];
const p4Dash = [[[1.5,0.2],[1.5,-0.4]],[[4.5,0.2],[4.5,-0.3]],[[1.5,0.2],[4.5,0.2]]];
const p1Ell = [0.02,0.0,0.43,0.25];
const p2Ell = [0.055,0.0,0.305,0.255];
const p3Ell = [0.03,0.05,0.43,0.25];
const p4Ell = [0.045,0.0,0.3,0.25];
const p1Labels = [["Class I",1.0,1.5],["Class II",0.51,0.6],["Class III/Photosphere",0.11,-0.245]];

// ---------------- DRAW ----------------
const FONT = "'Liberation Serif','DejaVu Serif',serif";
const INK = "#333";
const panels = [
  {left:82, top:13.3, xd:[-0.4,2.4], xt:irTicks, xm:0.2, xl:"[5.8]−[8.0]", yl:"[3.6]−[4.5]",
   field:p1Field.concat(p1FieldCore), blue:p1Blue.concat(p1BlueCore), green:p1Green, yellow:p1Yellow, red:p1Red, redX:[], black:p1Black, blackX:p1BlackX, star:p1Star, mstar:p1MagStar, mast:p1MagAst,
   solid:p1Solid, dashG:p1DashGray, dash:p1Dash, ell:p1Ell, labels:p1Labels},
  {left:510, top:13.3, xd:[-0.4,2.4], xt:irTicks, xm:0.2, xl:"[4.5]−[5.8]", yl:"[3.6]−[4.5]",
   field:p2Field.concat(p2FieldCore), blue:p2Blue.concat(p2BlueCore), green:p2Green, yellow:p2Yellow, red:p2Red, redX:[], black:p2Black, blackX:p2BlackX, star:p2Star, mstar:p2MagStar, mast:p2MagAst,
   solid:p2Solid, dashG:p2DashGray, dash:p2Dash, ell:p2Ell, labels:[]},
  {left:82, top:423.3, xd:[-0.4,2.4], xt:irTicks, xm:0.2, xl:"[5.8]−[8.0]", yl:"[4.5]−[5.8]",
   field:p3Field.concat(p3FieldCore), blue:p3Blue.concat(p3BlueCore), green:p3Green, yellow:p3Yellow, red:p3Red, redX:[], black:p3Black, blackX:p3BlackX, star:p3Star, mstar:p3MagStar, mast:p3MagAst,
   solid:p3Solid, dashG:p3DashGray, dash:p3Dash, ell:p3Ell, labels:[]},
  {left:510, top:423.3, xd:[-1,8], xt:p4XTicks, xm:0.5, xl:"[8.0]−[24]", yl:"[3.6]−[4.5]",
   field:p4Field, blue:p4Blue, green:p4Green, yellow:p4Yellow, red:p4Red, redX:p4RedX, black:p4Black, blackX:p4BlackX, star:p4Star, mstar:p4MagStar, mast:p4MagAst,
   solid:p4Solid, dashG:p4DashGray, dash:p4Dash, ell:p4Ell, labels:[]}
];
const W = 305.5, H = 306.7;
const svg = d3.select("#c");
const defs = svg.append("defs");

function starPath(r){
  const p=[];
  for(let i=0;i<10;i++){const a=-Math.PI/2+i*Math.PI/5, rr=i%2?r*0.42:r; p.push([(rr*Math.cos(a)).toFixed(2),(rr*Math.sin(a)).toFixed(2)]);}
  return "M"+p.map(d=>d.join(",")).join("L")+"Z";
}
const triPath = "M0,-2.6L2.4,1.7L-2.4,1.7Z";
const astPath = (()=>{let s="";for(let i=0;i<3;i++){const a=Math.PI/2+i*Math.PI/3,c=3.6*Math.cos(a),d=3.6*Math.sin(a);s+=`M${(-c).toFixed(2)},${(-d).toFixed(2)}L${c.toFixed(2)},${d.toFixed(2)}`;}return s;})();
const xsqPath = "M-3.3,-3.3L3.3,3.3M3.3,-3.3L-3.3,3.3";

panels.forEach((P,i)=>{
  const x = d3.scaleLinear().domain(P.xd).range([P.left, P.left+W]);
  const y = d3.scaleLinear().domain([-0.4,2.4]).range([P.top+H, P.top]);
  defs.append("clipPath").attr("id","clip"+i).append("rect").attr("x",P.left).attr("y",P.top).attr("width",W).attr("height",H);
  const g = svg.append("g");
  const m = g.append("g").attr("clip-path",`url(#clip${i})`);
  const tr = d=>`translate(${x(d[0]).toFixed(2)},${y(d[1]).toFixed(2)})`;

  m.append("g").selectAll("circle").data(P.field).join("circle")
    .attr("cx",d=>x(d[0])).attr("cy",d=>y(d[1])).attr("r",1.0).attr("fill","#000");
  m.append("g").selectAll("path").data(P.blue).join("path").attr("d",triPath).attr("transform",tr).attr("fill","#0000ff");
  m.append("g").selectAll("rect").data(P.green).join("rect")
    .attr("x",d=>x(d[0])-2.3).attr("y",d=>y(d[1])-2.3).attr("width",4.6).attr("height",4.6).attr("fill","#11ee11");
  const e = P.ell;
  m.append("ellipse").attr("cx",x(e[0])).attr("cy",y(e[1])).attr("rx",x(e[0]+e[2])-x(e[0])).attr("ry",y(e[1])-y(e[1]+e[3]))
    .attr("fill","none").attr("stroke","#ff33ff").attr("stroke-width",1);
  const line = d3.line().x(d=>x(d[0])).y(d=>y(d[1]));
  m.append("g").selectAll("path").data(P.dashG).join("path").attr("d",line).attr("fill","none").attr("stroke","#666").attr("stroke-width",1.2).attr("stroke-dasharray","14,6");
  m.append("g").selectAll("path").data(P.dash).join("path").attr("d",line).attr("fill","none").attr("stroke","#111").attr("stroke-width",1).attr("stroke-dasharray","12,5");
  m.append("g").selectAll("path").data(P.solid).join("path").attr("d",line).attr("fill","none").attr("stroke","#222").attr("stroke-width",1);
  m.append("g").selectAll("path").data(P.mstar).join("path").attr("d",starPath(4.4)).attr("transform",tr).attr("fill","none").attr("stroke","#ff33ff").attr("stroke-width",0.9);
  m.append("g").selectAll("path").data(P.mast).join("path").attr("d",astPath).attr("transform",tr).attr("fill","none").attr("stroke","#ff33ff").attr("stroke-width",1);
  m.append("g").selectAll("circle").data(P.yellow).join("circle")
    .attr("cx",d=>x(d[0])).attr("cy",d=>y(d[1])).attr("r",4.1).attr("fill","#ffee00").attr("stroke","#333").attr("stroke-width",0.9);
  m.append("g").selectAll("circle").data(P.red).join("circle")
    .attr("cx",d=>x(d[0])).attr("cy",d=>y(d[1])).attr("r",2.7).attr("fill","#ff0000");
  const rx = m.append("g").selectAll("g").data(P.redX).join("g").attr("transform",tr);
  rx.append("rect").attr("x",-2.4).attr("y",-2.4).attr("width",4.8).attr("height",4.8).attr("fill","#ff0000");
  rx.append("path").attr("d",xsqPath).attr("stroke","#ff0000").attr("stroke-width",1);
  m.append("g").selectAll("circle").data(P.black).join("circle")
    .attr("cx",d=>x(d[0])).attr("cy",d=>y(d[1])).attr("r",2.7).attr("fill","#000");
  const bx = m.append("g").selectAll("g").data(P.blackX).join("g").attr("transform",tr);
  bx.append("rect").attr("x",-2.4).attr("y",-2.4).attr("width",4.8).attr("height",4.8).attr("fill","#000");
  bx.append("path").attr("d",xsqPath).attr("stroke","#000").attr("stroke-width",1);
  m.append("g").selectAll("path").data(P.star).join("path").attr("d",starPath(3.6)).attr("transform",tr).attr("fill","#fff").attr("stroke","#111").attr("stroke-width",0.8);

  g.append("rect").attr("x",P.left).attr("y",P.top).attr("width",W).attr("height",H).attr("fill","none").attr("stroke","#444").attr("stroke-width",1);
  const minorX = d3.range(P.xd[0], P.xd[1]+1e-6, P.xm).filter(v=>!P.xt.some(t=>Math.abs(t-v)<1e-6));
  const minorY = d3.range(-0.4, 2.4+1e-6, 0.2).filter(v=>!irTicks.some(t=>Math.abs(t-v)<1e-6));
  const style = sel=>{sel.select(".domain").remove(); sel.selectAll("line").attr("stroke","#444");
    sel.selectAll("text").attr("font-family",FONT).attr("font-size",27).attr("fill",INK);};
  g.append("g").attr("transform",`translate(0,${P.top+H})`).call(d3.axisBottom(x).tickValues(P.xt).tickSize(-13).tickPadding(17).tickFormat(d3.format("d"))).call(style);
  g.append("g").attr("transform",`translate(0,${P.top+H})`).call(d3.axisBottom(x).tickValues(minorX).tickSize(-7).tickFormat("")).call(style);
  g.append("g").attr("transform",`translate(0,${P.top})`).call(d3.axisTop(x).tickValues(P.xt).tickSize(-13).tickFormat("")).call(style);
  g.append("g").attr("transform",`translate(0,${P.top})`).call(d3.axisTop(x).tickValues(minorX).tickSize(-7).tickFormat("")).call(style);
  g.append("g").attr("transform",`translate(${P.left},0)`).call(d3.axisLeft(y).tickValues(irTicks).tickSize(-13).tickPadding(14).tickFormat(d3.format("d"))).call(style);
  g.append("g").attr("transform",`translate(${P.left},0)`).call(d3.axisLeft(y).tickValues(minorY).tickSize(-7).tickFormat("")).call(style);
  g.append("g").attr("transform",`translate(${P.left+W},0)`).call(d3.axisRight(y).tickValues(irTicks).tickSize(-13).tickFormat("")).call(style);
  g.append("g").attr("transform",`translate(${P.left+W},0)`).call(d3.axisRight(y).tickValues(minorY).tickSize(-7).tickFormat("")).call(style);

  g.append("text").attr("x",P.left+W/2).attr("y",P.top+H+75).attr("text-anchor","middle")
    .attr("font-family",FONT).attr("font-size",30).attr("letter-spacing",2.5).attr("fill",INK).text(P.xl);
  g.append("text").attr("transform",`translate(${P.left-52},${P.top+H/2}) rotate(-90)`).attr("text-anchor","middle")
    .attr("font-family",FONT).attr("font-size",30).attr("letter-spacing",2.5).attr("fill",INK).text(P.yl);
  g.append("g").selectAll("text").data(P.labels).join("text")
    .attr("x",d=>x(d[1])).attr("y",d=>y(d[2])).attr("font-family",FONT).attr("font-size",21).attr("letter-spacing",2)
    .attr("fill",INK).text(d=>d[0]);
});
</script>
</body></html>
